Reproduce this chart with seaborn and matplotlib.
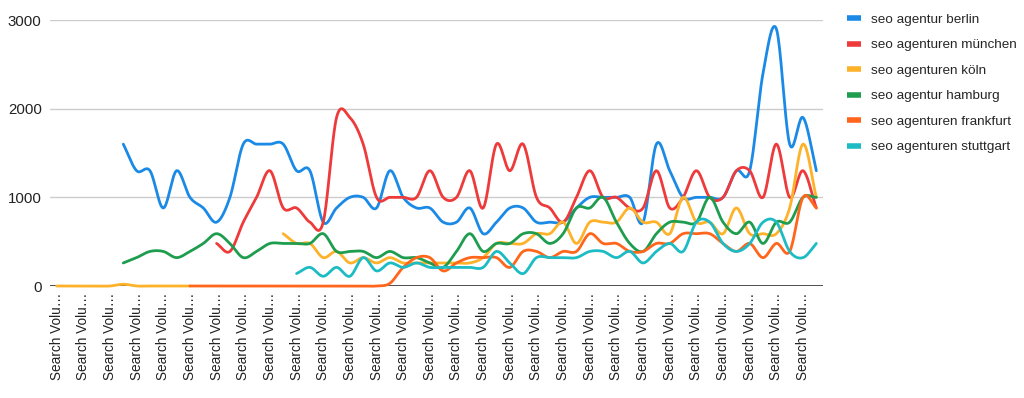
import numpy as np
import pandas as pd
import matplotlib
matplotlib.use("Agg")
import matplotlib.pyplot as plt
from matplotlib.lines import Line2D
import seaborn as sns

sns.set_theme(style="white")
plt.rcParams['font.family'] = ['Liberation Sans', 'DejaVu Sans']

nan = np.nan

# 58 monthly columns, labels truncated as in the sheet
x_labels = ["Search Volu\u2026"] * 58

berlin = [nan, nan, nan, nan, nan, 1600, 1300, 1300, 880, 1300,
          1000, 880, 720, 1000, 1600, 1600, 1600, 1600, 1300, 1300,
          720, 880, 1000, 1000, 880, 1300, 1000, 880, 880, 720,
          720, 880, 590, 720, 880, 880, 720, 720, 720, 880,
          1000, 1000, 1000, 1000, 720, 1600, 1300, 1000, 1000, 1000,
          1000, 1300, 1300, 2400, 2900, 1600, 1900, 1300]
muenchen = [nan, nan, nan, nan, nan, nan, nan, nan, nan, nan,
            nan, nan, 480, 390, 720, 1000, 1300, 880, 880, 720,
            720, 1900, 1900, 1600, 1000, 1000, 1000, 1000, 1300, 1000,
            1000, 1300, 880, 1600, 1300, 1600, 1000, 880, 720, 1000,
            1300, 1000, 1000, 880, 880, 1300, 880, 1000, 1300, 1000,
            1000, 1300, 1300, 1000, 1600, 1000, 1300, 880]
koeln = [0, 0, 0, 0, 0, 20, 0, 0, 0, 0,
         0, nan, nan, nan, nan, nan, nan, 590, 480, 480,
         320, 390, 260, 320, 260, 320, 260, 260, 260, 260,
         260, 260, 320, 480, 480, 480, 590, 590, 720, 480,
         720, 720, 720, 880, 720, 720, 590, 1000, 720, 720,
         590, 880, 590, 590, 590, 880, 1600, 1000]
hamburg = [nan, nan, nan, nan, nan, 260, 320, 390, 390, 320,
           390, 480, 590, 480, 320, 390, 480, 480, 480, 480,
           590, 390, 390, 390, 320, 390, 320, 320, 260, 210,
           390, 590, 390, 480, 480, 590, 590, 480, 590, 880,
           880, 1000, 720, 480, 390, 590, 720, 720, 720, 1000,
           720, 590, 720, 480, 720, 720, 1000, 1000]
frankfurt = [nan, nan, nan, nan, nan, nan, nan, nan, nan, nan,
             0, 0, 0, 0, 0, 0, 0, 0, 0, 0,
             0, 0, 0, 0, 0, 30, 210, 320, 320, 170,
             260, 320, 320, 320, 210, 390, 390, 320, 390, 390,
             590, 480, 480, 390, 390, 480, 480, 590, 590, 590,
             480, 390, 480, 320, 480, 390, 1000, 880]
stuttgart = [nan, nan, nan, nan, nan, nan, nan, nan, nan, nan,
             nan, nan, nan, nan, nan, nan, nan, nan, 140, 210,
             110, 210, 110, 320, 170, 260, 210, 260, 210, 210,
             210, 210, 210, 390, 260, 140, 320, 320, 320, 320,
             390, 390, 320, 390, 260, 390, 480, 390, 720, 720,
             480, 390, 480, 720, 720, 390, 320, 480]

series_names = ["seo agentur berlin", "seo agenturen münchen", "seo agenturen köln",
                "seo agentur hamburg", "seo agenturen frankfurt", "seo agenturen stuttgart"]
series_values = [berlin, muenchen, koeln, hamburg, frankfurt, stuttgart]
colors = ["#1a8ae6", "#ee3a3a", "#fdb22a", "#1f9d4f", "#ff661c", "#1dbcc4"]


def smooth_segment(xs, ys, steps=20):
    # cubic hermite (catmull-rom) through the points, like the sheet's curved lines
    xs = np.asarray(xs, float)
    ys = np.asarray(ys, float)
    if len(xs) < 2:
        return xs, ys
    m = np.empty_like(ys)
    m[0] = ys[1] - ys[0]
    m[-1] = ys[-1] - ys[-2]
    if len(ys) > 2:
        m[1:-1] = (ys[2:] - ys[:-2]) / 2
    t = np.linspace(0, 1, steps, endpoint=False)
    h00 = 2 * t**3 - 3 * t**2 + 1
    h10 = t**3 - 2 * t**2 + t
    h01 = -2 * t**3 + 3 * t**2
    h11 = t**3 - t**2
    out_x, out_y = [], []
    for k in range(len(xs) - 1):
        out_x.append(xs[k] + t * (xs[k + 1] - xs[k]))
        out_y.append(h00 * ys[k] + h10 * m[k] + h01 * ys[k + 1] + h11 * m[k + 1])
    out_x.append([xs[-1]])
    out_y.append([ys[-1]])
    return np.concatenate(out_x), np.concatenate(out_y)


rows = []
seg_id = 0
for name, vals in zip(series_names, series_values):
    vals = np.array(vals, float)
    idx = np.arange(len(vals))
    ok = ~np.isnan(vals)
    # split into runs of non-missing values
    breaks = np.where(np.diff(ok.astype(int)) != 0)[0] + 1
    for run in np.split(idx, breaks):
        if not ok[run[0]]:
            continue
        sx, sy = smooth_segment(run, vals[run])
        for a, b in zip(sx, sy):
            rows.append((a, b, name, seg_id))
        seg_id += 1

df = pd.DataFrame(rows, columns=["x", "y", "series", "seg"])

fig = plt.figure(figsize=(10.24, 3.98), dpi=100)
ax = fig.add_axes([50 / 1024, 1 - 286 / 398, 773 / 1024, 266 / 398])

sns.lineplot(data=df, x="x", y="y", hue="series", units="seg", estimator=None,
             sort=False, hue_order=series_names, palette=colors, linewidth=2.0,
             legend=False, ax=ax)
for ln in ax.lines:
    ln.set_clip_on(False)
    ln.set_solid_capstyle("round")
    ln.set_solid_joinstyle("round")

ax.set_xlim(-0.5, 57.5)
ax.set_ylim(0, 3000)
ax.set_yticks([0, 1000, 2000, 3000])
ax.set_yticklabels(["0", "1000", "2000", "3000"], fontsize=10.8, color="#222222")
ax.set_xticks(range(0, 58, 2))
ax.set_xticklabels(x_labels[::2], rotation=90, fontsize=9.8, color="#222222")
ax.tick_params(axis="x", length=0, pad=5)
ax.tick_params(axis="y", length=0, pad=6)
ax.set_xlabel("")
ax.set_ylabel("")
ax.yaxis.grid(True, color="#cccccc", linewidth=1)
ax.set_axisbelow(True)
for s in ax.spines.values():
    s.set_visible(False)
ax.axhline(0, color="#333333", linewidth=1.2, zorder=1.5)

handles = [Line2D([0], [0], color=c, linewidth=4, solid_capstyle="butt") for c in colors]
fig.legend(handles, series_names, loc="upper left", bbox_to_anchor=(842 / 1024, 1 - 8 / 398),
           frameon=False, fontsize=9.7, handlelength=1.0, handletextpad=0.75,
           labelspacing=0.97, borderaxespad=0)

fig.savefig("out.png", dpi=100)
